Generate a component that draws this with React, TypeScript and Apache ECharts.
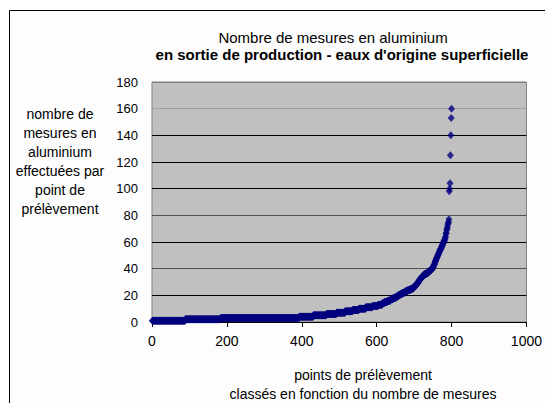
import React, { useEffect, useRef } from "react";
import * as echarts from "echarts";

// Sorted number of measurements per sampling point, in run-length form
const runValues = [1, 2, 3, 4, 5, 6, 7, 8, 9, 10, 11, 12, 13, 14, 15, 16, 17, 18, 19, 20, 21, 22, 23, 24, 25, 26, 27, 28, 29, 30, 31, 32, 33, 34, 35, 36, 37, 38, 39, 40];
const runCounts = [88, 95, 209, 38, 35, 27, 23, 20, 17, 18, 18, 15, 11, 6, 8, 8, 7, 7, 6, 6, 6, 7, 7, 8, 7, 4, 3, 3, 3, 2, 2, 3, 3, 3, 4, 6, 5, 4, 4, 3];
// steep tail and outliers, one value per sampling point
const tailValues = [41, 41, 42, 43, 43, 44, 45, 46, 46, 47, 48, 48, 49, 50, 50, 51, 52, 52, 53, 54, 54, 55, 55, 56, 57, 57, 58, 59, 59, 60, 61, 61, 62, 63, 64, 66, 67, 69, 70, 71, 73, 74, 75, 77, 98, 100, 104, 125, 140, 153, 160];

const titleLine1 = "Nombre de mesures en aluminium";
const titleLine2 = "en sortie de production - eaux d'origine superficielle";
const yTitle = ["nombre de", "mesures en", "aluminium", "effectuées par", "point de", "prélèvement"];
const xTitle = ["points de prélèvement", "classés en fonction du nombre de mesures"];

const FONT = "'Liberation Sans', Arial, sans-serif";

function buildPoints(): number[][] {
  const pts: number[][] = [];
  let idx = 1;
  runValues.forEach((v, k) => {
    for (let j = 0; j < runCounts[k]; j++) pts.push([idx++, v]);
  });
  tailValues.forEach((v) => pts.push([idx++, v]));
  return pts;
}

export default function App() {
  const ref = useRef<HTMLDivElement>(null);
  useEffect(() => {
    if (!ref.current) return;
    const chart = echarts.init(ref.current, null, { renderer: "svg" });
    chart.setOption({
      animation: false,
      backgroundColor: "#ffffff",
      graphic: [
        {
          type: "rect",
          z: -10,
          shape: { x: 9.5, y: 10.5, width: 600, height: 500 },
          style: { fill: "#fdfdfd", stroke: "#000", lineWidth: 1 },
          silent: true,
        },
        {
          type: "text",
          x: 333,
          y: 37,
          style: { text: titleLine1, font: `15px ${FONT}`, fill: "#000", textAlign: "center", textVerticalAlign: "middle" },
        },
        {
          type: "text",
          x: 342,
          y: 54,
          style: { text: titleLine2, font: `bold 15px ${FONT}`, fill: "#000", textAlign: "center", textVerticalAlign: "middle" },
        },
        {
          type: "text",
          x: 60,
          y: 104.5,
          style: { text: yTitle.join("\n"), font: `14px ${FONT}`, fill: "#000", textAlign: "center", textVerticalAlign: "top", lineHeight: 19 },
        },
        {
          type: "text",
          x: 363,
          y: 365.5,
          style: { text: xTitle.join("\n"), font: `14px ${FONT}`, fill: "#000", textAlign: "center", textVerticalAlign: "top", lineHeight: 19 },
        },
      ],
      grid: {
        left: 152,
        top: 82,
        width: 384,
        height: 240,
        show: true,
        backgroundColor: "#c0c0c0",
        borderColor: "#808080",
        borderWidth: 1,
        containLabel: false,
      },
      xAxis: {
        type: "value",
        min: 0,
        max: 1000,
        interval: 200,
        axisLine: { show: true, lineStyle: { color: "#000", width: 1 } },
        axisTick: { show: true, inside: false, length: 5, lineStyle: { color: "#000" } },
        axisLabel: {
          color: "#000",
          fontSize: 14,
          fontFamily: FONT,
          margin: 12,
          showMaxLabel: true,
          hideOverlap: false,
          formatter: (v: number) => String(v),
        },
        splitLine: { show: false },
      },
      yAxis: {
        type: "value",
        min: 0,
        max: 180,
        interval: 20,
        axisLine: { show: false },
        axisTick: { show: false },
        axisLabel: { color: "#000", fontSize: 13, fontFamily: FONT, margin: 14, formatter: (v: number) => String(v) },
        splitLine: {
          show: true,
          lineStyle: {
            width: 1,
            color: ["#000", "#000", "#505050", "#000", "#505050", "#000", "#000", "#000", "#a0a0a0", "#808080"],
          },
        },
      },
      series: [
        {
          type: "scatter",
          data: buildPoints(),
          symbol: "diamond",
          symbolSize: [7, 8],
          clip: false,
          itemStyle: { color: "#000080" },
          silent: true,
        },
      ],
    });
    return () => chart.dispose();
  }, []);
  return <div ref={ref} style={{ position: "fixed", left: 0, top: 0, width: 545, height: 403 }} />;
}
